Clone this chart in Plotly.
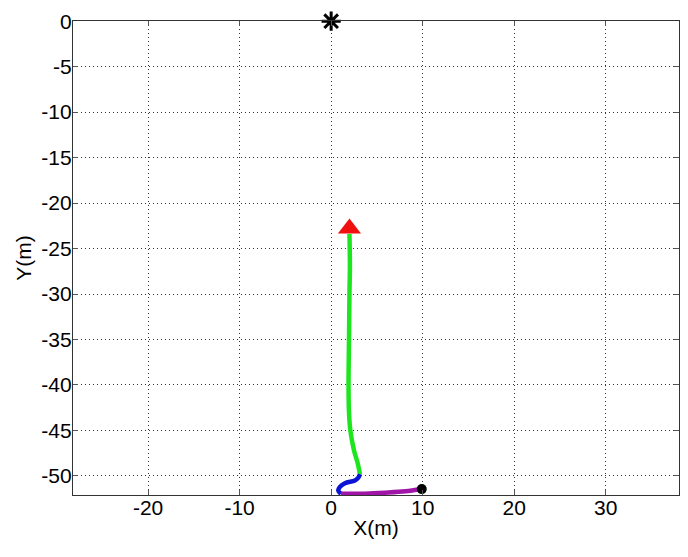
import plotly.graph_objects as go

# Trajectory segments (metres)
green_x = [2.0, 2.05, 2.0, 1.95, 1.9, 1.95, 2.1, 2.5, 2.9, 3.15]
green_y = [-23.4, -27.0, -30.0, -35.0, -40.0, -43.0, -45.0, -47.2, -48.6, -49.8]
blue_x = [3.15, 2.97, 2.6, 1.5, 0.96, 0.78, 1.07]
blue_y = [-49.8, -50.2, -50.5, -50.8, -51.2, -51.6, -51.97]
magenta_x = [1.07, 3.7, 5.9, 8.1, 9.83]
magenta_y = [-51.97, -51.95, -51.85, -51.7, -51.45]
start_pt = (9.9, -51.45)
target_pt = (0.0, 0.0)
end_pt = (2.0, -22.8)

x_ticks = [-20, -10, 0, 10, 20, 30]
x_ticktext = ["-20", "-10", "0", "10", "20", "30"]
y_ticks = [0, -5, -10, -15, -20, -25, -30, -35, -40, -45, -50]
y_ticktext = ["0", "-5", "-10", "-15", "-20", "-25", "-30", "-35", "-40", "-45", "-50"]

FONT = "Liberation Sans, Arial, sans-serif"

fig = go.Figure()
fig.add_trace(go.Scatter(x=green_x, y=green_y, mode="lines",
                         line=dict(color="#1ee61e", width=4.5, shape="spline"), cliponaxis=False))
fig.add_trace(go.Scatter(x=blue_x, y=blue_y, mode="lines",
                         line=dict(color="#0a14d2", width=4.5, shape="spline"), cliponaxis=False))
fig.add_trace(go.Scatter(x=magenta_x, y=magenta_y, mode="lines",
                         line=dict(color="#a014a8", width=4.5, shape="spline"), cliponaxis=False))
fig.add_trace(go.Scatter(x=[start_pt[0]], y=[start_pt[1]], mode="markers",
                         marker=dict(symbol="circle", size=10, color="black"), cliponaxis=False))
fig.add_trace(go.Scatter(x=[end_pt[0]], y=[end_pt[1]], mode="markers",
                         marker=dict(symbol="triangle-up", size=20, color="#f01010",
                                     line=dict(width=0)), cliponaxis=False))
fig.add_trace(go.Scatter(x=[target_pt[0]], y=[target_pt[1]], mode="markers",
                         marker=dict(symbol="asterisk-open", size=16, color="black",
                                     line=dict(color="black", width=3)), cliponaxis=False))

axis_common = dict(
    showline=True, linecolor="#333333", linewidth=1.2, mirror="ticks",
    ticks="inside", ticklen=5, tickcolor="#555555",
    showgrid=True, gridcolor="#333333", gridwidth=1, griddash="1px,3px",
    zeroline=False, automargin=False, ticklabeloverflow="allow",
    tickfont=dict(family=FONT, size=21, color="black"),
    title_font=dict(family=FONT, size=21, color="black"),
)

fig.update_layout(
    width=680, height=549,
    margin=dict(l=65, r=9, t=13, b=62),
    paper_bgcolor="white", plot_bgcolor="white",
    showlegend=False,
    xaxis=dict(range=[-28.2, 38.0], tickvals=x_ticks, ticktext=x_ticktext,
               title=dict(text="X(m)", standoff=2), ticklabelstandoff=-6, **axis_common),
    yaxis=dict(range=[-52.1, 0.02], tickvals=y_ticks, ticktext=y_ticktext,
               title=dict(text="Y(m)", standoff=3), ticklabelstandoff=-4, **axis_common),
)

fig.write_html("out.html")
